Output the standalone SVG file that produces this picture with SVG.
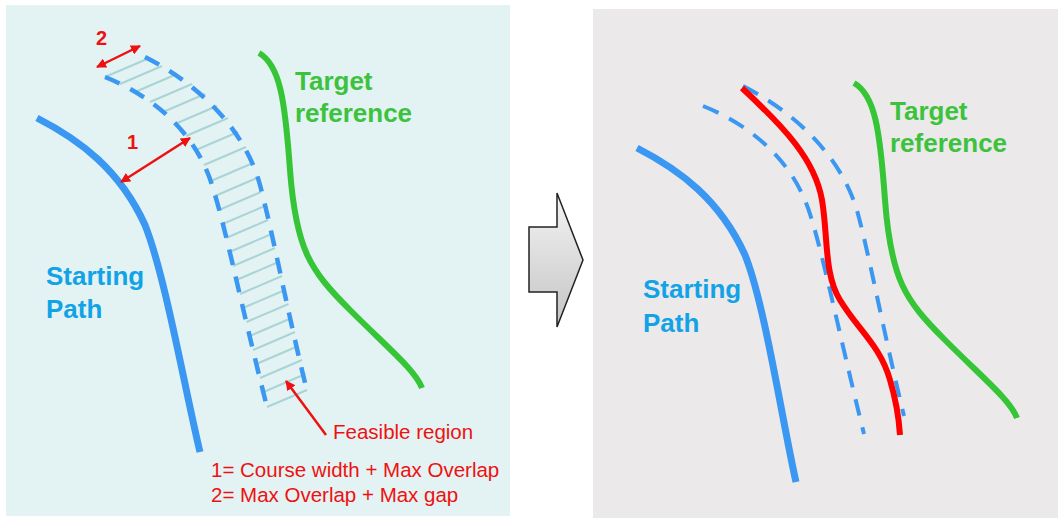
<svg xmlns="http://www.w3.org/2000/svg" width="1058" height="518" viewBox="0 0 1058 518">
<defs>
<style>
.blue{fill:none;stroke:#3a97f2;stroke-width:7}
.green{fill:none;stroke:#36c536;stroke-width:6}
.dash{fill:none;stroke:#3a97f2;stroke-width:4.5;stroke-dasharray:16 12}
.dash2{fill:none;stroke:#3a97f2;stroke-width:4;stroke-dasharray:17 12}
.hatch{stroke:#a9d4d6;stroke-width:2}
.redl{fill:none;stroke:#ee1111;stroke-width:2.5}
.lblB{font-family:"Liberation Sans",Arial,sans-serif;font-weight:bold;font-size:26px;fill:#12a3e6}
.lblG{font-family:"Liberation Sans",Arial,sans-serif;font-weight:bold;font-size:26px;fill:#3cc23c}
.lblR{font-family:"Liberation Sans",Arial,sans-serif;font-size:20.5px;fill:#ee1111}
.lblRB{font-family:"Liberation Sans",Arial,sans-serif;font-weight:bold;font-size:20px;fill:#ee1111}
</style>
<marker id="ah" viewBox="0 0 10 10" refX="9" refY="5" markerWidth="4" markerHeight="4" orient="auto-start-reverse">
<path d="M0,0 L10,5 L0,10 z" fill="#ee1111"/>
</marker>
<linearGradient id="ag" x1="0" y1="0" x2="0" y2="1">
<stop offset="0" stop-color="#f4f4f4"/>
<stop offset="1" stop-color="#c4c4c4"/>
</linearGradient>
</defs>
<rect x="0" y="0" width="1058" height="518" fill="#ffffff"/>
<g id="panel-left">
<rect x="6" y="5" width="504" height="511" fill="#e3f2f3"/>
</g>
<g id="panel-right">
<rect x="593" y="9" width="465" height="509" fill="#ebe9ea"/>
</g>
<g id="feasible-region">
<g class="hatch">
<line x1="105" y1="77" x2="147" y2="59"/>
<line x1="120" y1="84" x2="162" y2="66"/>
<line x1="135" y1="92" x2="177" y2="74"/>
<line x1="150" y1="102" x2="192" y2="84"/>
<line x1="163" y1="112" x2="205" y2="94"/>
<line x1="175" y1="124" x2="217" y2="106"/>
<line x1="186" y1="136" x2="228" y2="118"/>
<line x1="196" y1="150" x2="238" y2="132"/>
<line x1="204" y1="165" x2="246" y2="147"/>
<line x1="211" y1="181" x2="253" y2="163"/>
<line x1="215" y1="196" x2="257" y2="178"/>
<line x1="219" y1="210" x2="261" y2="192"/>
<line x1="222.7" y1="224" x2="264.7" y2="206"/>
<line x1="226" y1="238" x2="268" y2="220"/>
<line x1="229.5" y1="252" x2="271.5" y2="234"/>
<line x1="233" y1="266" x2="275" y2="248"/>
<line x1="236.5" y1="280" x2="278.5" y2="262"/>
<line x1="240" y1="294" x2="282" y2="276"/>
<line x1="243" y1="308" x2="285" y2="290"/>
<line x1="246.5" y1="322" x2="288.5" y2="304"/>
<line x1="249.7" y1="336" x2="291.7" y2="318"/>
<line x1="253" y1="350" x2="295" y2="332"/>
<line x1="256.3" y1="364" x2="298.3" y2="346"/>
<line x1="260" y1="378" x2="302" y2="360"/>
<line x1="263.5" y1="392" x2="305.5" y2="374"/>
<line x1="267" y1="407" x2="307" y2="390"/>
</g>
<path class="dash" d="M105,77 C150,95 195,130 212,185 C225,225 240,300 266,403"/>
<path class="dash" d="M145,57 C200,85 245,130 260,185 C272,230 285,300 306,387"/>
</g>
<g id="starting-path-left">
<path class="blue" d="M37,118 C80,140 120,170 145,225 C165,275 185,390 200,452"/>
<text class="lblB" x="46" y="285">Starting</text>
<text class="lblB" x="46" y="318">Path</text>
</g>
<g id="target-reference-left">
<path class="green" d="M259,53 C280,65 285,100 290,170 C296,250 310,270 350,310 C390,350 415,370 422,388"/>
<text class="lblG" x="295" y="90">Target</text>
<text class="lblG" x="295" y="122">reference</text>
</g>
<g id="labels-left">
<text class="lblRB" x="96" y="45">2</text>
<text class="lblRB" x="127" y="149">1</text>
<text class="lblR" x="333" y="439">Feasible region</text>
<text class="lblR" x="211" y="477">1= Course width + Max Overlap</text>
<text class="lblR" x="211" y="502">2= Max Overlap + Max gap</text>
</g>
<g id="connectors">
<line class="redl" x1="121" y1="182" x2="190" y2="138" marker-start="url(#ah)" marker-end="url(#ah)"/>
<line class="redl" x1="97" y1="67" x2="140" y2="46" marker-start="url(#ah)" marker-end="url(#ah)"/>
<line class="redl" x1="326" y1="435" x2="286" y2="381" marker-end="url(#ah)"/>
</g>
<g id="block-arrow">
<polygon points="529,227 557,227 557,193 583,260 557,327 557,292 529,292" fill="url(#ag)" stroke="#222222" stroke-width="1.5" stroke-linejoin="miter"/>
</g>
<g id="result-region">
<path class="dash2" d="M703,106 C748,124 793,159 810,214 C823,254 838,329 864,434"/>
<path class="dash2" d="M743,86 C798,114 843,159 858,214 C870,259 883,329 904,416"/>
<path fill="none" stroke="#ff0000" stroke-width="6" d="M742,88 C785,128 815,160 822,200 C828,235 824,275 840,300 C858,330 880,345 890,380 C896,400 899,420 900,435"/>
</g>
<g id="starting-path-right">
<path class="blue" d="M637,148 C680,170 720,200 745,255 C765,305 782,420 796,482"/>
<text class="lblB" x="643" y="298">Starting</text>
<text class="lblB" x="643" y="332">Path</text>
</g>
<g id="target-reference-right">
<path class="green" d="M854,83 C875,95 880,130 885,200 C891,280 905,300 945,340 C985,380 1010,400 1017,418"/>
<text class="lblG" x="890" y="120">Target</text>
<text class="lblG" x="890" y="152">reference</text>
</g>
</svg>
